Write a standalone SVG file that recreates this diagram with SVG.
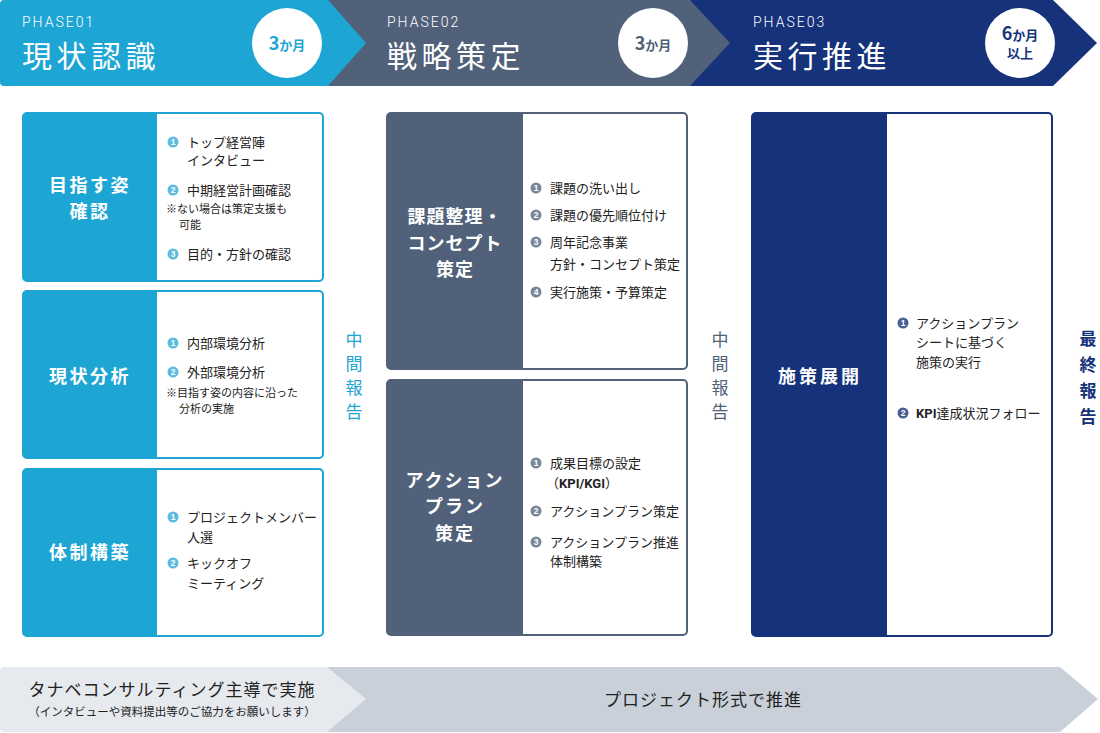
<svg xmlns="http://www.w3.org/2000/svg" width="1100" height="733" viewBox="0 0 1100 733">
<style>
.jp{font-family:"Noto Sans CJK JP","Noto Sans",sans-serif}
.ph{font-family:Roboto,"Liberation Sans",sans-serif;font-size:14px;fill:#fff;letter-spacing:2px;font-weight:300}
.pt{font-family:"Noto Sans CJK JP",sans-serif;font-size:30px;fill:#fff;letter-spacing:4.5px;font-weight:400}
.lab{font-family:"Noto Sans CJK JP",sans-serif;font-size:18px;fill:#fff;font-weight:700;text-anchor:middle}
.it{font-family:"Noto Sans CJK JP",sans-serif;font-size:13px;fill:#222}
.nt{font-family:"Noto Sans CJK JP",sans-serif;font-size:11px;fill:#222}
.num{font-family:"Liberation Sans",sans-serif;font-size:8.5px;fill:#fff;font-weight:700;text-anchor:middle}
.mid{font-family:"Noto Sans CJK JP",sans-serif;font-size:17px;text-anchor:middle}
</style>
<defs/>
<g id="header">
<polygon points="690,0 1053,0 1097,43 1053,86 690,86" fill="#15327A"/>
<polygon points="328,0 690,0 730,43 690,86 328,86" fill="#506179"/>
<path d="M4,0 H328 L366,43 L328,86 H4 Q0,86 0,82 V4 Q0,0 4,0 Z" fill="#1DA5D4"/>
<text x="22" y="27" class="ph">PHASE01</text>
<text x="22" y="67" class="pt">現状認識</text>
<text x="387" y="27" class="ph">PHASE02</text>
<text x="387" y="67" class="pt">戦略策定</text>
<text x="753" y="27" class="ph">PHASE03</text>
<text x="753" y="67" class="pt">実行推進</text>
<circle cx="287" cy="43" r="35" fill="#fff"/>
<text x="287" y="50" class="jp" text-anchor="middle" font-weight="700" fill="#1DA5D4"><tspan font-size="18">3</tspan><tspan font-size="13">か月</tspan></text>
<circle cx="653" cy="43" r="35" fill="#fff"/>
<text x="653" y="50" class="jp" text-anchor="middle" font-weight="700" fill="#506179"><tspan font-size="18">3</tspan><tspan font-size="13">か月</tspan></text>
<circle cx="1020" cy="43" r="35" fill="#fff"/>
<text x="1020" y="40" class="jp" text-anchor="middle" font-weight="700" fill="#15327A"><tspan font-size="18">6</tspan><tspan font-size="13">か月</tspan></text>
<text x="1020" y="58" class="jp" text-anchor="middle" font-weight="700" fill="#15327A" font-size="13">以上</text>
</g>

<g id="box-mezasu">
<rect x="23" y="113" width="300" height="168" rx="4" fill="#fff" stroke="#1DA5D4" stroke-width="2"/>
<path d="M27,113 H157 V281 H27 Q23,281 23,277 V117 Q23,113 27,113 Z" fill="#1DA5D4"/>
<text x="90" y="192" class="lab" letter-spacing="2.5">目指す姿</text>
<text x="90" y="218" class="lab" letter-spacing="2.5">確認</text>
<circle cx="173" cy="142" r="5.5" fill="#5BBCE0"/><text x="173" y="145" class="num">1</text>
<text x="187" y="147" class="it">トップ経営陣</text>
<text x="187" y="165" class="it">インタビュー</text>
<circle cx="173" cy="190" r="5.5" fill="#5BBCE0"/><text x="173" y="193" class="num">2</text>
<text x="187" y="195" class="it">中期経営計画確認</text>
<text x="166" y="213" class="nt">※ない場合は策定支援も</text>
<text x="179" y="229" class="nt">可能</text>
<circle cx="173" cy="254" r="5.5" fill="#5BBCE0"/><text x="173" y="257" class="num">3</text>
<text x="187" y="259" class="it">目的・方針の確認</text>
</g>

<g id="box-genjo">
<rect x="23" y="291" width="300" height="167" rx="4" fill="#fff" stroke="#1DA5D4" stroke-width="2"/>
<path d="M27,291 H157 V458 H27 Q23,458 23,454 V295 Q23,291 27,291 Z" fill="#1DA5D4"/>
<text x="90" y="383" class="lab" letter-spacing="2.5">現状分析</text>
<circle cx="173" cy="343" r="5.5" fill="#5BBCE0"/><text x="173" y="346" class="num">1</text>
<text x="187" y="348" class="it">内部環境分析</text>
<circle cx="173" cy="372" r="5.5" fill="#5BBCE0"/><text x="173" y="375" class="num">2</text>
<text x="187" y="377" class="it">外部環境分析</text>
<text x="166" y="397" class="nt">※目指す姿の内容に沿った</text>
<text x="179" y="413" class="nt">分析の実施</text>
</g>

<g id="box-taisei">
<rect x="23" y="469" width="300" height="167" rx="4" fill="#fff" stroke="#1DA5D4" stroke-width="2"/>
<path d="M27,469 H157 V636 H27 Q23,636 23,632 V473 Q23,469 27,469 Z" fill="#1DA5D4"/>
<text x="90" y="559" class="lab" letter-spacing="2.5">体制構築</text>
<circle cx="173" cy="517" r="5.5" fill="#5BBCE0"/><text x="173" y="520" class="num">1</text>
<text x="187" y="522" class="it">プロジェクトメンバー</text>
<text x="187" y="542" class="it">人選</text>
<circle cx="173" cy="563" r="5.5" fill="#5BBCE0"/><text x="173" y="566" class="num">2</text>
<text x="187" y="568" class="it">キックオフ</text>
<text x="187" y="588" class="it">ミーティング</text>
</g>

<g id="box-kadai">
<rect x="387" y="113" width="300" height="256" rx="4" fill="#fff" stroke="#506179" stroke-width="2"/>
<path d="M391,113 H523 V369 H391 Q387,369 387,365 V117 Q387,113 391,113 Z" fill="#506179"/>
<text x="455" y="223" class="lab" letter-spacing="1">課題整理・</text>
<text x="455" y="250" class="lab" letter-spacing="1">コンセプト</text>
<text x="455" y="276" class="lab" letter-spacing="1">策定</text>
<circle cx="536" cy="188" r="5.5" fill="#7A879A"/><text x="536" y="191" class="num">1</text>
<text x="550" y="193" class="it">課題の洗い出し</text>
<circle cx="536" cy="215" r="5.5" fill="#7A879A"/><text x="536" y="218" class="num">2</text>
<text x="550" y="220" class="it">課題の優先順位付け</text>
<circle cx="536" cy="242" r="5.5" fill="#7A879A"/><text x="536" y="245" class="num">3</text>
<text x="550" y="247" class="it">周年記念事業</text>
<text x="550" y="269" class="it">方針・コンセプト策定</text>
<circle cx="536" cy="292" r="5.5" fill="#7A879A"/><text x="536" y="295" class="num">4</text>
<text x="550" y="297" class="it">実行施策・予算策定</text>
</g>

<g id="box-action">
<rect x="387" y="380" width="300" height="255" rx="4" fill="#fff" stroke="#506179" stroke-width="2"/>
<path d="M391,380 H523 V635 H391 Q387,635 387,631 V384 Q387,380 391,380 Z" fill="#506179"/>
<text x="455" y="487" class="lab" letter-spacing="2">アクション</text>
<text x="455" y="513" class="lab" letter-spacing="2">プラン</text>
<text x="455" y="540" class="lab" letter-spacing="2">策定</text>
<circle cx="536" cy="463" r="5.5" fill="#7A879A"/><text x="536" y="466" class="num">1</text>
<text x="550" y="468" class="it">成果目標の設定</text>
<text x="546" y="488" class="it">（<tspan font-weight="700" font-family="Roboto,'Liberation Sans',sans-serif">KPI/KGI</tspan>）</text>
<circle cx="536" cy="511" r="5.5" fill="#7A879A"/><text x="536" y="514" class="num">2</text>
<text x="550" y="516" class="it">アクションプラン策定</text>
<circle cx="536" cy="542" r="5.5" fill="#7A879A"/><text x="536" y="545" class="num">3</text>
<text x="550" y="547" class="it">アクションプラン推進</text>
<text x="550" y="566" class="it">体制構築</text>
</g>

<g id="box-shisaku">
<rect x="752" y="113" width="300" height="523" rx="4" fill="#fff" stroke="#15327A" stroke-width="2"/>
<path d="M756,113 H887 V636 H756 Q752,636 752,632 V117 Q752,113 756,113 Z" fill="#15327A"/>
<text x="820" y="383" class="lab" letter-spacing="3">施策展開</text>
<circle cx="903" cy="323" r="5.5" fill="#4A5E96"/><text x="903" y="326" class="num">1</text>
<text x="916" y="328" class="it">アクションプラン</text>
<text x="916" y="347" class="it">シートに基づく</text>
<text x="916" y="367" class="it">施策の実行</text>
<circle cx="903" cy="413" r="5.5" fill="#4A5E96"/><text x="903" y="416" class="num">2</text>
<text x="916" y="418" class="it"><tspan font-weight="700" font-family="Roboto,'Liberation Sans',sans-serif">KPI</tspan>達成状況フォロー</text>
</g>

<g id="report1">
<text x="354" y="346" class="mid" fill="#1DA5D4">中</text>
<text x="354" y="370" class="mid" fill="#1DA5D4">間</text>
<text x="354" y="394" class="mid" fill="#1DA5D4">報</text>
<text x="354" y="418" class="mid" fill="#1DA5D4">告</text>
</g>
<g id="report2">
<text x="720" y="346" class="mid" fill="#506179">中</text>
<text x="720" y="370" class="mid" fill="#506179">間</text>
<text x="720" y="394" class="mid" fill="#506179">報</text>
<text x="720" y="418" class="mid" fill="#506179">告</text>
</g>
<g id="report-final">
<text x="1088" y="345" class="mid" fill="#15327A" font-weight="700" font-size="21">最</text>
<text x="1088" y="371" class="mid" fill="#15327A" font-weight="700" font-size="21">終</text>
<text x="1088" y="397" class="mid" fill="#15327A" font-weight="700" font-size="21">報</text>
<text x="1088" y="423" class="mid" fill="#15327A" font-weight="700" font-size="21">告</text>
</g>

<g id="bottom">
<polygon points="327,667 1060,667 1098,699 1060,732 327,732" fill="#C9D0D9"/>
<path d="M4,667 H327 L366,699 L327,732 H4 Q0,732 0,728 V671 Q0,667 4,667 Z" fill="#E6E9EE"/>
<text x="172" y="696" class="jp" font-size="17" fill="#222" text-anchor="middle" letter-spacing="1">タナベコンサルティング主導で実施</text>
<text x="172" y="716" class="jp" font-size="11.5" fill="#222" text-anchor="middle">（インタビューや資料提出等のご協力をお願いします）</text>
<text x="703" y="706" class="jp" font-size="17" fill="#222" text-anchor="middle" letter-spacing="1">プロジェクト形式で推進</text>
</g>
<g id="connectors"/>
</svg>
